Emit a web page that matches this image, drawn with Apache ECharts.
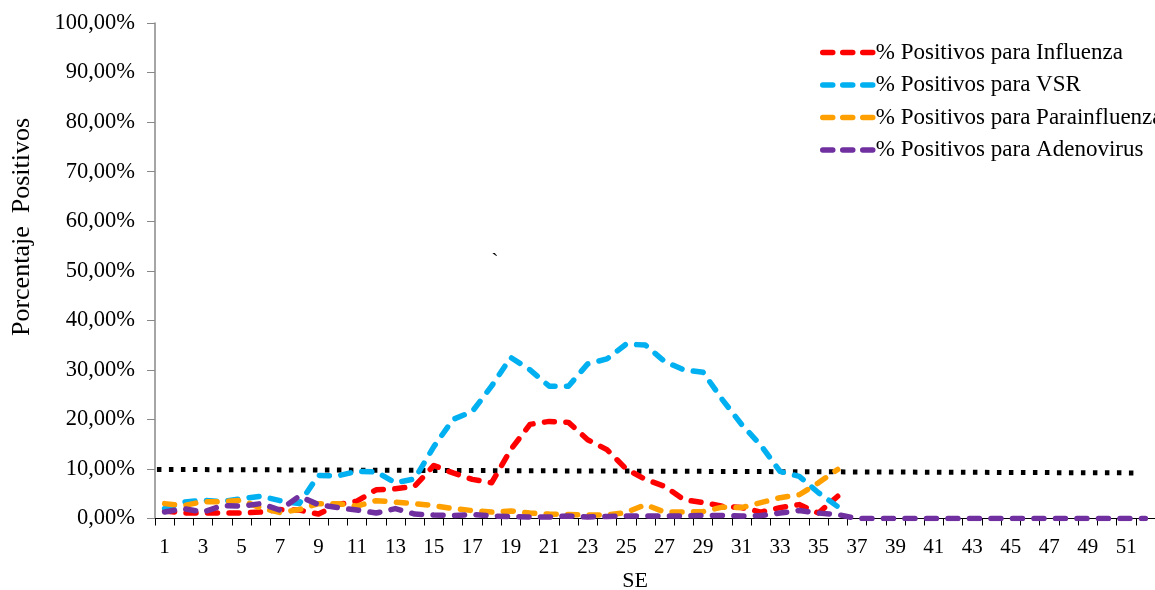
<!DOCTYPE html>
<html>
<head>
<meta charset="utf-8">
<script src="https://cdn.jsdelivr.net/npm/echarts@6/dist/echarts.min.js"></script>
<style>
  html, body { margin: 0; padding: 0; background: #fff; }
  #chart { width: 1155px; height: 590px; }
</style>
</head>
<body>
<div id="chart"></div>
<script>
// Semanas epidemiológicas 1..52
const semanas = Array.from({ length: 52 }, (_, i) => String(i + 1));

// % de muestras positivas por semana (semanas 1..36 con datos)
const influenza = [1.5, 1.1, 1.1, 1.1, 1.1, 1.3, 1.8, 1.7, 0.9, 2.8, 3.5, 5.8, 6.0, 6.5, 10.7, 9.2, 7.9, 7.2,
  13.9, 19.0, 19.6, 19.4, 15.9, 13.9, 10.0, 7.9, 6.5, 3.8, 3.2, 2.5, 2.2, 1.3, 2.2, 2.8, 1.1, 4.5];
const vsr = [2.0, 3.3, 3.7, 3.4, 4.0, 4.5, 3.6, 3.0, 8.7, 8.6, 9.5, 9.4, 7.2, 8.0, 14.5, 20.0, 21.6, 26.7,
  32.5, 30.0, 26.7, 26.7, 31.2, 32.2, 35.2, 35.0, 31.7, 30.0, 29.5, 24.0, 19.0, 14.8, 9.5, 8.5, 5.2, 2.4];
const parainfluenza = [3.0, 2.6, 3.4, 3.4, 3.7, 2.1, 1.2, 1.8, 3.0, 3.0, 2.5, 3.6, 3.3, 3.0, 2.6, 2.0, 1.6, 1.3,
  1.5, 1.1, 0.9, 0.8, 0.7, 0.7, 1.2, 2.8, 1.3, 1.3, 1.4, 2.3, 2.2, 3.2, 4.2, 4.8, 7.2, 9.9];
const adenovirus = [1.3, 2.0, 1.3, 2.6, 2.5, 3.0, 1.7, 4.5, 2.8, 2.2, 1.7, 1.1, 2.0, 0.9, 0.7, 0.6, 0.8, 0.5,
  0.4, 0.3, 0.3, 0.5, 0.3, 0.4, 0.5, 0.5, 0.5, 0.5, 0.6, 0.6, 0.5, 0.6, 1.1, 1.6, 1.1, 0.8,
  0, 0, 0, 0, 0, 0, 0, 0, 0, 0, 0, 0, 0, 0, 0, 0];

// Línea de umbral (posición en semanas sobre eje continuo, valor en %)
const umbralX = [0.1, 51.1];
const umbralY = [9.9, 9.2];

const yTicks = { min: 0, max: 100, interval: 10 };

const FONT = "'Liberation Serif', 'Times New Roman', serif";

const nombres = [
  '% Positivos para Influenza',
  '% Positivos para VSR',
  '% Positivos para Parainfluenza',
  '% Positivos para Adenovirus'
];
const colores = ['#FF0000', '#00B0F0', '#FFA000', '#7030A0'];
const valores = [influenza, vsr, parainfluenza, adenovirus];

const DASH = [10, 11.5];

const dashed = (color) => ({
  color: color,
  width: 5.5,
  type: DASH,
  cap: 'round',
  join: 'round'
});

const chart = echarts.init(document.getElementById('chart'), null, { renderer: 'canvas' });

const series = [{
  name: 'umbral',
  type: 'line',
  xAxisIndex: 1,
  data: umbralX.map((x, i) => [x, umbralY[i]]),
  symbol: 'none',
  silent: true,
  lineStyle: { color: '#000', width: 5, type: [4.5, 7.5], cap: 'butt' },
  z: 2
}];
nombres.forEach((n, i) => {
  series.push({
    name: n,
    type: 'line',
    data: valores[i],
    symbol: 'none',
    showSymbol: false,
    connectNulls: false,
    lineStyle: dashed(colores[i]),
    itemStyle: { color: colores[i] },
    z: 3
  });
});

chart.setOption({
  animation: false,
  backgroundColor: '#fff',
  textStyle: { fontFamily: FONT },
  grid: { left: 155, right: -5, top: 23, bottom: 71.5, containLabel: false },
  legend: {
    data: nombres,
    orient: 'vertical',
    left: 815,
    top: 36,
    itemWidth: 50,
    itemHeight: 14,
    itemGap: 9.5,
    itemStyle: { opacity: 0 },
    lineStyle: { width: 5.5, type: [10, 10], cap: 'round' },
    textStyle: { fontFamily: FONT, fontSize: 23, color: '#000', lineHeight: 23, padding: [0, 0, 0, -2] }
  },
  xAxis: [{
    type: 'category',
    data: semanas,
    boundaryGap: true,
    axisLine: { lineStyle: { color: '#000', width: 1 } },
    axisTick: { show: true, length: 7, lineStyle: { color: '#000' }, interval: 0 },
    axisLabel: { interval: 1, fontFamily: FONT, fontSize: 21, color: '#000', margin: 18 },
    splitLine: { show: false }
  }, {
    type: 'value',
    min: 0,
    max: 52,
    show: false
  }],
  yAxis: {
    type: 'value',
    min: yTicks.min,
    max: yTicks.max,
    interval: yTicks.interval,
    axisLine: { show: true, lineStyle: { color: '#888', width: 1.5 } },
    axisTick: { show: true, length: 8, lineStyle: { color: '#888' } },
    axisLabel: {
      fontFamily: FONT, fontSize: 22.5, color: '#000', margin: 20,
      formatter: (v) => v.toFixed(2).replace('.', ',') + '%'
    },
    splitLine: { show: false }
  },
  graphic: [
    {
      type: 'text',
      x: 22, y: 227,
      rotation: Math.PI / 2,
      style: { text: 'Porcentaje  Positivos', font: "26px " + FONT, fill: '#000', textAlign: 'center', textVerticalAlign: 'middle' }
    },
    {
      type: 'text',
      x: 635, y: 581,
      style: { text: 'SE', font: "22px " + FONT, fill: '#000', textAlign: 'center', textVerticalAlign: 'middle' }
    },
    {
      type: 'text',
      x: 495, y: 262,
      style: { text: '`', font: "22px " + FONT, fill: '#000', textAlign: 'center', textVerticalAlign: 'middle' }
    }
  ],
  series: series
});
</script>
</body>
</html>
